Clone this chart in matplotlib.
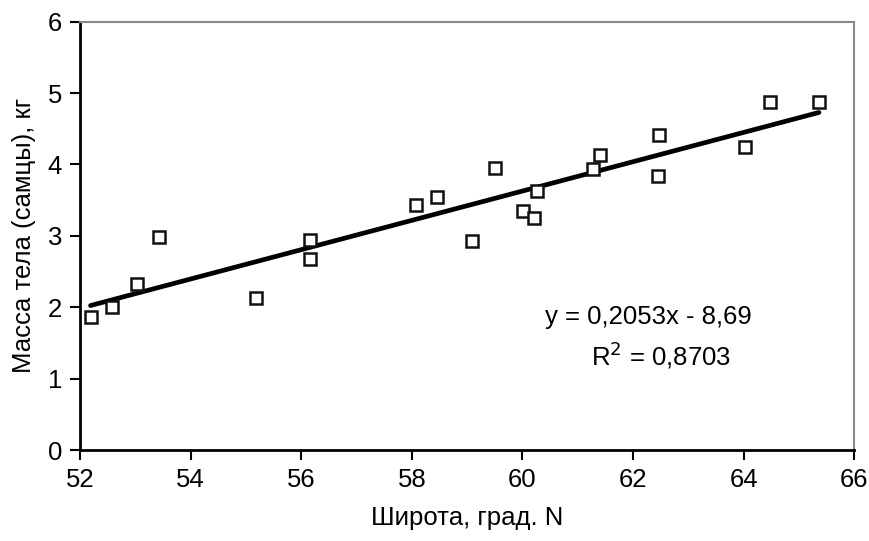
import numpy as np
import matplotlib.pyplot as plt

plt.rcParams['font.family'] = ['Liberation Sans', 'DejaVu Sans']

# latitude, deg N and male body mass, kg
latitude = [52.19, 52.57, 53.03, 53.42, 55.19, 56.15, 56.15, 58.08, 58.46, 59.08,
            59.50, 60.01, 60.21, 60.26, 61.28, 61.40, 62.45, 62.46, 64.03, 64.48, 65.36]
mass = [1.87, 2.01, 2.32, 2.98, 2.13, 2.94, 2.67, 3.43, 3.55, 2.93,
        3.95, 3.35, 3.25, 3.63, 3.94, 4.13, 3.84, 4.41, 4.25, 4.88, 4.87]

slope = 0.2053
intercept = -8.69

fig = plt.figure(figsize=(8.7, 5.41), dpi=100)
ax = fig.add_axes([0.092, 0.168, 0.890, 0.792])

ax.plot(latitude, mass, linestyle='none', marker='s', markersize=8.6,
        markerfacecolor='white', markeredgecolor='#111111', markeredgewidth=1.8, zorder=3)

xfit = np.array([min(latitude), max(latitude)])
ax.plot(xfit, slope * xfit + intercept, color='black', linewidth=3.4, solid_capstyle='round', zorder=2)

fs = 18.5
ax.text(62.27, 1.86, 'y = 0,2053x - 8,69', ha='center', va='center', fontsize=fs)
ax.text(62.5, 1.33, 'R$^2$ = 0,8703', ha='center', va='center', fontsize=fs)

ax.set_xlim(52, 66)
ax.set_ylim(0, 6)
ax.set_xticks(range(52, 67, 2))
ax.set_yticks(range(0, 7))
ax.tick_params(direction='out', length=7, width=1.5, labelsize=fs, pad=6)

ax.spines['left'].set_linewidth(2)
ax.spines['bottom'].set_linewidth(2)
ax.spines['top'].set_color('#888888')
ax.spines['right'].set_color('#888888')
ax.spines['top'].set_linewidth(1.5)
ax.spines['right'].set_linewidth(1.5)

ax.set_xlabel('Широта, град. N', fontsize=fs, labelpad=10)
ax.set_ylabel('Масса тела (самцы), кг', fontsize=fs, labelpad=8)

fig.savefig('out.png', dpi=100)
